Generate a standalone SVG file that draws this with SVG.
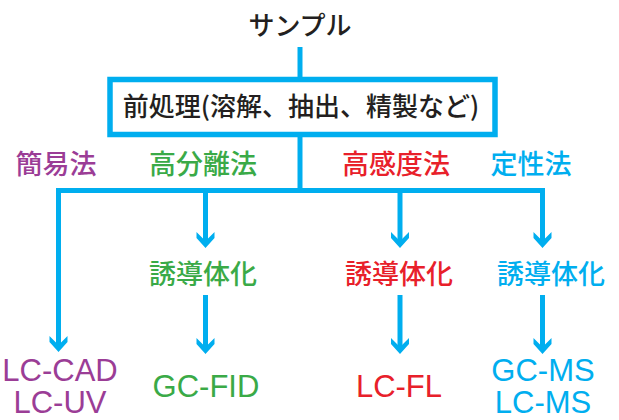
<svg xmlns="http://www.w3.org/2000/svg" xmlns:xlink="http://www.w3.org/1999/xlink" width="619" height="420" viewBox="0 0 619 420">
<style>
.ln{fill:none;stroke:#00aeef;stroke-width:5;stroke-linejoin:miter;stroke-linecap:butt}
.ah{fill:#00aeef}
.jp{font-family:"Noto Sans CJK JP","Noto Sans",sans-serif;font-size:27px;font-weight:500;text-anchor:middle}
.en{font-family:"Liberation Sans",Arial,sans-serif;font-size:31px;text-anchor:middle}
.k{fill:#231f20}
.pu{fill:#9b3d96}
.gr{fill:#3aaa47}
.rd{fill:#e8202a}
.cy{fill:#00aeef}
</style>
<defs>
<path id="ah" d="M0,0 L-9,-10 L-9,-16 L0,-7 L9,-16 L9,-10 Z"/>
</defs>
<g id="connectors">
<path class="ln" d="M300,47 V79.5"/>
<path class="ln" d="M300,134.5 V190.5"/>
<path class="ln" d="M58.5,345 V190.5 H542.5 V242"/>
<path class="ln" d="M205.5,190.5 V242"/>
<path class="ln" d="M400,190.5 V242"/>
<path class="ln" d="M205.5,295 V347"/>
<path class="ln" d="M400,295 V347"/>
<path class="ln" d="M542.5,295 V347"/>
<use href="#ah" class="ah" x="58.5" y="352"/>
<use href="#ah" class="ah" x="205.5" y="248"/>
<use href="#ah" class="ah" x="400" y="248"/>
<use href="#ah" class="ah" x="542.5" y="248"/>
<use href="#ah" class="ah" x="205.5" y="354"/>
<use href="#ah" class="ah" x="400" y="354"/>
<use href="#ah" class="ah" x="542.5" y="354"/>
</g>
<g id="sample"><text class="jp k" x="300" y="35" style="font-size:26px">サンプル</text></g>
<g id="pretreat">
<rect x="110" y="79.5" width="385" height="55" fill="#fff" stroke="#00aeef" stroke-width="5.5"/>
<text class="jp k" x="301" y="116" style="font-size:26px">前処理(溶解、抽出、精製など)</text>
</g>
<g id="simple"><text class="jp pu" x="56" y="174">簡易法</text></g>
<g id="highsep"><text class="jp gr" x="203" y="174">高分離法</text></g>
<g id="highsens"><text class="jp rd" x="396" y="174">高感度法</text></g>
<g id="qual"><text class="jp cy" x="531" y="174">定性法</text></g>
<g id="deriv1"><text class="jp gr" x="203" y="283.5">誘導体化</text></g>
<g id="deriv2"><text class="jp rd" x="399" y="283.5">誘導体化</text></g>
<g id="deriv3"><text class="jp cy" x="551" y="283.5">誘導体化</text></g>
<g id="lc-cad"><text class="en pu" x="60" y="381">LC-CAD</text><text class="en pu" x="60" y="413">LC-UV</text></g>
<g id="gc-fid"><text class="en gr" x="206" y="397">GC-FID</text></g>
<g id="lc-fl"><text class="en rd" x="399" y="397">LC-FL</text></g>
<g id="gc-ms"><text class="en cy" x="543" y="381">GC-MS</text><text class="en cy" x="543" y="413">LC-MS</text></g>
</svg>
